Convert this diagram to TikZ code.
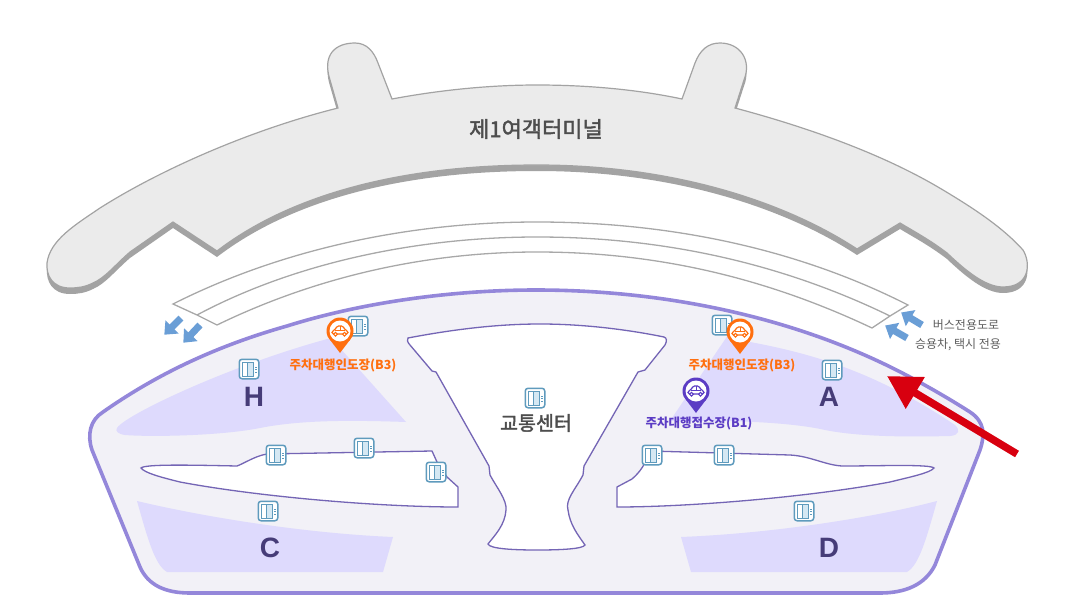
\documentclass[tikz,border=0pt]{standalone}
\usepackage{fontspec}
\setmainfont{Noto Sans CJK KR}
\newfontfamily\medfont{Noto Sans CJK KR}[FakeBold=2]
\newfontfamily\latinbold{Liberation Sans}[BoldFont={Liberation Sans Bold}]
\definecolor{outl}{HTML}{9487DA}
\definecolor{floorc}{HTML}{F2F1F7}
\definecolor{zonec}{HTML}{DEDAFD}
\definecolor{innerl}{HTML}{7465B5}
\definecolor{termf}{HTML}{EBEBEB}
\definecolor{terme}{HTML}{A3A3A3}
\definecolor{roadl}{HTML}{A8A8A8}
\definecolor{bluea}{HTML}{6A9ED6}
\definecolor{reda}{HTML}{D8000F}
\definecolor{liftl}{HTML}{5F9BBD}
\definecolor{liftf}{HTML}{D5E8F3}
\definecolor{pino}{HTML}{FF6F0F}
\definecolor{pinp}{HTML}{5B3CC4}
\definecolor{inkd}{HTML}{4D4D4D}
\definecolor{inkn}{HTML}{5E5E5E}
\definecolor{inkz}{HTML}{463C78}
\usetikzlibrary{arrows.meta}
\tikzset{
  liftbox/.style={draw=liftl,line width=1.5pt,fill=white,rounded corners=2.8pt,minimum size=19.5pt,inner sep=0pt},
  zonelabel/.style={font=\latinbold\bfseries\fontsize{28}{28}\selectfont,text=inkz,inner sep=0pt},
  placelabel/.style={text=inkd,inner sep=0pt},
  pinlabel/.style={font=\bfseries\fontsize{12.5}{13}\selectfont,inner sep=0pt},
  roadnote/.style={font=\fontsize{12}{13}\selectfont,text=inkn,inner sep=0pt},
  flowarrow/.style={line width=7pt,bluea,-{Triangle[length=11pt,width=18pt]},shorten >=-1pt},
  redarrow/.style={line width=7.5pt,reda,-{Triangle[length=33pt,width=35pt]}},
  road/.style={draw=roadl,line width=1.3pt,line join=miter},
  innerline/.style={draw=innerl,line width=1.3pt,fill=white},
}
\newcommand{\termpath}{
 (47,263) .. controls (50,240) and (75,225) .. (100,208)
 .. controls (160,170) and (250,130) .. (338,108)
 -- (330,80)
 .. controls (322,55) and (335,43) .. (355,43)
 .. controls (367,43) and (374,52) .. (378,63)
 -- (392,99)
 .. controls (440,90) and (490,85) .. (537,85)
 .. controls (590,85) and (640,90) .. (682,99)
 -- (695,63)
 .. controls (700,50) and (708,43) .. (720,43)
 .. controls (740,43) and (752,60) .. (744,80)
 -- (735,108)
 .. controls (810,128) and (885,155) .. (943,190)
 .. controls (980,212) and (1005,230) .. (1023,250)
 .. controls (1031,263) and (1030,287) .. (1003,287)
 .. controls (985,287) and (965,270) .. (947,253)
 .. controls (930,240) and (915,232) .. (900,223)
 -- (857,249)
 .. controls (790,205) and (680,165) .. (537,165)
 .. controls (400,165) and (290,195) .. (217,251)
 -- (173,222)
 -- (130,252)
 .. controls (115,265) and (105,278) .. (93,283)
 .. controls (85,287) and (78,288) .. (70,288)
 .. controls (52,288) and (46,275) .. (47,263) -- cycle}
\newcommand{\lift}[3]{%
 \node[liftbox] (#1) at (#2,#3) {};
 \begin{scope}[shift={(#1.center)}]
  \fill[liftf] (-2,-7) rectangle (4,7);
  \draw[liftl,line width=.9pt] (-7,7) -- (-7,-7) -- (4,-7) -- (4,7) -- cycle (-1.5,-7) -- (-1.5,7);
  \draw[liftl,line width=.8pt] (6,-2) -- (8,-2) (6,.5) -- (8,.5) (6,3) -- (8,3);
 \end{scope}}
\newcommand{\carpin}[4]{%
 \node[circle,fill=#4,minimum size=27pt,inner sep=0pt] (#1) at (#2,#3) {};
 \begin{scope}[shift={(#1.center)}]
  \fill[#4] (-12,5) .. controls (-9,11) and (-5,15) .. (0,22) .. controls (5,15) and (9,11) .. (12,5) -- cycle;
  \fill[white] (0,0) circle[radius=10.5pt];
  \draw[#4,line width=1.2pt,rounded corners=1.5pt] (-8,3) -- (-8,0) -- (-5,-1) -- (-3,-5) -- (3,-5) -- (5,-1) -- (8,0) -- (8,3) -- cycle;
  \draw[#4,line width=.9pt] (-5,-1) -- (5,-1) (0,-5) -- (0,-1);
  \filldraw[fill=white,draw=#4,line width=1.1pt] (-4.5,3.2) circle[radius=1.9pt] (4.5,3.2) circle[radius=1.9pt];
 \end{scope}}
\begin{document}
\begin{tikzpicture}[x=1pt,y=-1pt]
\useasboundingbox (0,0) rectangle (1071,613);
% terminal
\fill[terme,shift={(0,6)}] \termpath;
\draw[terme,line width=1.2pt,fill=termf] \termpath;
\node[placelabel,font=\medfont\fontsize{22}{24}\selectfont] (term) at (536,129) {제1여객터미널};
% roads
\coordinate (rA) at (173,304); \coordinate (rB) at (197,315); \coordinate (rC) at (217,325);
\coordinate (rD) at (908,305); \coordinate (rE) at (890,316); \coordinate (rF) at (872,328);
\draw[road] (rA) .. controls (290,245) and (420,222) .. (537,222) .. controls (660,222) and (790,245) .. (rD) -- (rE) -- (rF)
 .. controls (760,275) and (650,252) .. (537,252) .. controls (430,252) and (320,275) .. (rC) -- (rB) -- (rA) -- cycle;
\draw[road] (rB) .. controls (300,260) and (425,237) .. (537,237) .. controls (655,237) and (775,260) .. (rE);
% flow arrows
\coordinate (fa1) at (181,318); \coordinate (fa2) at (165,334);
\coordinate (fb1) at (200,325); \coordinate (fb2) at (184,342);
\coordinate (fc1) at (922,325); \coordinate (fc2) at (902,313);
\coordinate (fd1) at (907,338); \coordinate (fd2) at (886,326);
\draw[flowarrow] (fa1) -- (fa2); \draw[flowarrow] (fb1) -- (fb2);
\draw[flowarrow] (fc1) -- (fc2); \draw[flowarrow] (fd1) -- (fd2);
\node[roadnote] (n1) at (966,325) {버스전용도로};
\node[roadnote] (n2) at (958,345) {승용차, 택시 전용};
% floor
\draw[outl,line width=3.6pt,fill=floorc]
 (103,412) .. controls (160,372) and (220,345) .. (287,326)
 .. controls (360,303) and (450,290) .. (536,290)
 .. controls (660,290) and (780,315) .. (880,362)
 .. controls (910,376) and (945,396) .. (970,412)
 .. controls (985,422) and (985,435) .. (980,450)
 -- (935,565) .. controls (925,585) and (905,593) .. (880,593)
 -- (190,593) .. controls (165,593) and (148,585) .. (140,567)
 -- (92,450) .. controls (87,435) and (90,420) .. (103,412) -- cycle;
% zones
\fill[zonec] (117,428) .. controls (125,415) and (230,365) .. (331,338) -- (406,422)
 .. controls (350,420) and (300,420) .. (260,428) .. controls (220,436) and (150,437) .. (125,435) .. controls (118,434) and (115,431) .. (117,428) -- cycle;
\fill[zonec] (728,335) -- (750,342) .. controls (820,355) and (880,375) .. (955,425)
 .. controls (960,430) and (960,435) .. (950,436) .. controls (910,437) and (860,437) .. (825,430)
 .. controls (790,422) and (730,420) .. (670,421) -- cycle;
\fill[zonec] (137,501) .. controls (200,516) and (300,533) .. (393,537) -- (383,572) -- (167,572)
 .. controls (155,565) and (148,540) .. (137,501) -- cycle;
\fill[zonec] (937,501) .. controls (880,516) and (780,533) .. (681,537) -- (691,572) -- (907,572)
 .. controls (919,565) and (926,540) .. (937,501) -- cycle;
% inner blocks
\draw[innerline] (408,338) .. controls (450,330) and (495,324) .. (540,324)
 .. controls (585,324) and (630,330) .. (664,337) .. controls (667,338) and (667,341) .. (665,345)
 -- (645,370) -- (638,372) -- (584,466) -- (583,475)
 .. controls (575,490) and (565,500) .. (568,510) .. controls (570,525) and (578,535) .. (585,545)
 .. controls (583,549) and (560,550) .. (537,550) .. controls (515,550) and (490,549) .. (488,544)
 .. controls (495,535) and (505,525) .. (506,510) .. controls (507,500) and (497,488) .. (490,475)
 -- (489,466) -- (436,372) -- (432,371) -- (410,345) .. controls (407,342) and (407,339) .. (408,338) -- cycle;
\draw[innerline] (141,468) .. controls (145,464) and (190,465) .. (237,466)
 .. controls (245,463) and (255,456) .. (267,454) -- (432,451) -- (437,462) -- (447,477) -- (458,487) -- (458,507)
 .. controls (380,507) and (260,497) .. (180,482) .. controls (160,477) and (145,473) .. (141,468) -- cycle;
\draw[innerline] (934,468) .. controls (930,464) and (880,466) .. (842,466)
 .. controls (825,465) and (810,456) .. (790,455) -- (650,451)
 .. controls (645,465) and (640,472) .. (632,479) -- (617,487) -- (617,507)
 .. controls (690,507) and (810,497) .. (890,482) .. controls (910,477) and (930,473) .. (934,468) -- cycle;
% lifts
\lift{l1}{358}{326} \lift{l2}{249}{369} \lift{l3}{276}{455} \lift{l4}{364}{448}
\lift{l5}{436}{472} \lift{l6}{268}{511} \lift{l7}{535}{398} \lift{l8}{652}{455}
\lift{l9}{724}{455} \lift{l10}{722}{325} \lift{l11}{832}{370} \lift{l12}{804}{511}
% labels
\node[zonelabel] (zh) at (254,397) {H};
\node[zonelabel] (za) at (829,397) {A};
\node[zonelabel] (zc) at (270,548) {C};
\node[zonelabel] (zd) at (829,548) {D};
\node[placelabel,font=\medfont\fontsize{19.5}{21}\selectfont] (tc) at (536,423) {교통센터};
% pins
\carpin{p1}{340}{331}{pino}
\carpin{p2}{740}{332}{pino}
\carpin{p3}{696}{391}{pinp}
\node[pinlabel,text=pino] (t1) at (343,366) {주차대행인도장(B3)};
\node[pinlabel,text=pino] (t2) at (742,366) {주차대행인도장(B3)};
\node[pinlabel,text=pinp] (t3) at (699,424) {주차대행접수장(B1)};
% red arrow
\coordinate (ra1) at (1017,454); \coordinate (ra2) at (887,376);
\draw[redarrow] (ra1) -- (ra2);
\end{tikzpicture}
\end{document}
